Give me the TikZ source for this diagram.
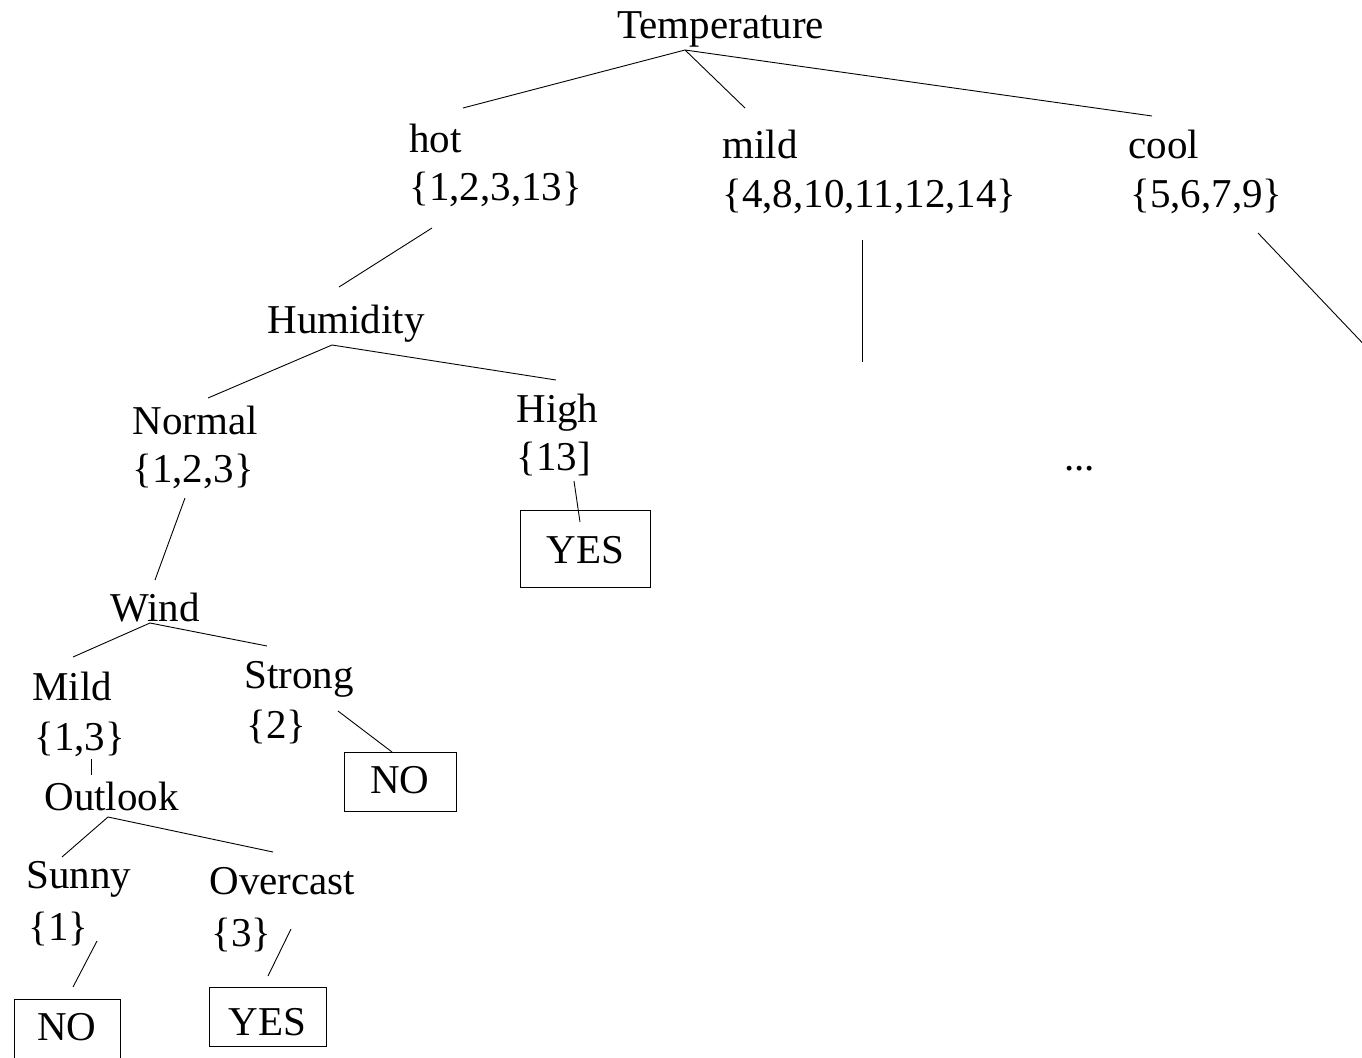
\documentclass[tikz,border=0pt]{standalone}
\usepackage{fontspec}
\setmainfont{Liberation Serif}
\begin{document}
\begin{tikzpicture}[x=1pt,y=-1pt,line width=0.9pt,
  lbl/.style={anchor=base west,inner sep=0pt,font=\fontsize{41}{49}\selectfont},
  leaf/.style={draw,anchor=base,inner sep=0pt,line width=0.9pt,font=\fontsize{41}{49}\selectfont}]
\useasboundingbox (0,0) rectangle (1362,1057);
\clip (0,0) rectangle (1362,1057);
% labels
\node[lbl] (temp) at (617,39) {Temperature};
\node[lbl] (hot) at (409,152) {hot};
\node[lbl] (hotset) at (409,200) {\{1,2,3,13\}};
\node[lbl] (mild) at (722,158) {mild};
\node[lbl] (mildset) at (722,207) {\{4,8,10,11,12,14\}};
\node[lbl] (cool) at (1128,158) {cool};
\node[lbl] (coolset) at (1130,207) {\{5,6,7,9\}};
\node[lbl] (humid) at (267,333) {Humidity};
\node[lbl] (normal) at (132,434) {Normal};
\node[lbl] (normalset) at (132,482) {\{1,2,3\}};
\node[lbl] (high) at (516,422) {High};
\node[lbl] (highset) at (516,470) {\{13]};
\node[lbl] (dots) at (1064,470) {...};
\node[lbl] (wind) at (110,621) {Wind};
\node[lbl] (wmild) at (32,700) {Mild};
\node[lbl] (wmildset) at (34,750) {\{1,3\}};
\node[lbl] (strong) at (244,688) {Strong};
\node[lbl] (strongset) at (246,738) {\{2\}};
\node[lbl] (outlook) at (44,810) {Outlook};
\node[lbl] (sunny) at (26,888) {Sunny};
\node[lbl] (sunnyset) at (28,940) {\{1\}};
\node[lbl] (overc) at (209,894) {Overcast};
\node[lbl] (overcset) at (211,946) {\{3\}};
% leaves
\node[leaf,minimum width=130pt,text height=53pt,text depth=24pt] (yeshigh) at (585.5,563) {YES};
\node[leaf,minimum width=112pt,text height=41pt,text depth=18pt] (nostrong) at (400,793) {NO};
\node[leaf,minimum width=106pt,text height=41pt,text depth=35pt] (nosunny) at (67,1040) {NO};
\node[leaf,minimum width=117pt,text height=48pt,text depth=11pt] (yesoverc) at (267.5,1035) {YES};
% line ends
\coordinate (tempJ) at (685,50);
\coordinate (hotT) at (463,108);
\coordinate (mildT) at (745,108);
\coordinate (coolT) at (1152,116);
\coordinate (hotB) at (432,228);
\coordinate (humidT) at (339,287);
\coordinate (mildB) at (862,240);
\coordinate (mildE) at (862,362);
\coordinate (coolB) at (1258,233);
\coordinate (coolE) at (1372,353);
\coordinate (humidJ) at (332,345);
\coordinate (normalT) at (208,398);
\coordinate (highT) at (556,380);
\coordinate (highB) at (574,481);
\coordinate (yeshighT) at (580,522);
\coordinate (normalB) at (185,498);
\coordinate (windT) at (155,580);
\coordinate (windJ) at (150,623);
\coordinate (wmildT) at (73,657);
\coordinate (strongT) at (267,646);
\coordinate (strongB) at (338,711);
\coordinate (nostrongT) at (392,752);
\coordinate (wmildB) at (91,759);
\coordinate (outlookT) at (91,775);
\coordinate (outlookJ) at (108,817);
\coordinate (sunnyT) at (62,857);
\coordinate (overcT) at (273,852);
\coordinate (sunnyB) at (97,941);
\coordinate (nosunnyT) at (73,987);
\coordinate (overcB) at (291,929);
\coordinate (yesovercT) at (268,976);
% connectors
\draw (tempJ) -- (hotT) (tempJ) -- (mildT) (tempJ) -- (coolT);
\draw (hotB) -- (humidT);
\draw (mildB) -- (mildE);
\draw (coolB) -- (coolE);
\draw (humidJ) -- (normalT) (humidJ) -- (highT);
\draw (highB) -- (yeshighT);
\draw (normalB) -- (windT);
\draw (windJ) -- (wmildT) (windJ) -- (strongT);
\draw (strongB) -- (nostrongT);
\draw (wmildB) -- (outlookT);
\draw (outlookJ) -- (sunnyT) (outlookJ) -- (overcT);
\draw (sunnyB) -- (nosunnyT);
\draw (overcB) -- (yesovercT);
\end{tikzpicture}
\end{document}
